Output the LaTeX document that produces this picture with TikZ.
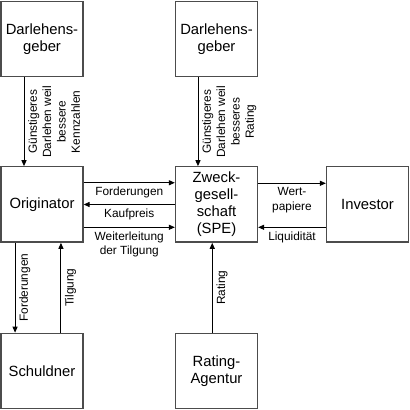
\documentclass[tikz,border=0pt]{standalone}
\usepackage{fontspec}
\setmainfont{Liberation Sans}
\usetikzlibrary{arrows.meta}

\begin{document}
\begin{tikzpicture}[x=0.75pt,y=0.75pt,
    box/.style={draw=black!70,line width=1pt,minimum width=61.5pt,minimum height=56.5pt,
      inner sep=0pt,align=center,font=\fontsize{11.1}{12.8}\selectfont},
    pfeil/.style={-{Triangle[length=4.5pt,width=3.8pt]},line width=0.7pt},
    lbl/.style={align=center,inner sep=2.8pt,font=\fontsize{8.9}{10.8}\selectfont}]
   \useasboundingbox (0,0) rectangle (410,410);
   % Boxen
   \node[box] (gebA) at (42,371) {Darlehens-\\geber};
   \node[box] (gebB) at (216.5,371) {Darlehens-\\geber};
   \node[box] (orig) at (42,205.5) {Originator};
   \node[box] (spe) at (216.5,205.5) {Zweck-\\gesell-\\schaft\\(SPE)};
   \node[box] (inv) at (367.5,205.5) {Investor};
   \node[box] (schuld) at (42,39) {Schuldner};
   \node[box] (agentur) at (216.5,39) {Rating-\\Agentur};
   % Pfeile oben
   \draw[pfeil] ([xshift=-13.5pt]gebA.south) -- ([xshift=-13.5pt]orig.north)
      node[lbl,midway,anchor=north,rotate=90] {Günstigeres\\Darlehen weil\\bessere\\Kennzahlen};
   \draw[pfeil] ([xshift=-13.9pt]gebB.south) -- ([xshift=-13.9pt]spe.north)
      node[lbl,midway,anchor=north,rotate=90] {Günstigeres\\Darlehen weil\\besseres\\Rating};
   % Pfeile Mitte
   \draw[pfeil] ([yshift=16.3pt]orig.east) -- ([yshift=16.3pt]spe.west)
      node[lbl,midway,below] {Forderungen};
   \draw[pfeil] (spe.west) -- (orig.east)
      node[lbl,midway,below] {Kaufpreis};
   \draw[pfeil] ([yshift=-17.1pt]orig.east) -- ([yshift=-17.1pt]spe.west)
      node[lbl,midway,below] {Weiterleitung\\der Tilgung};
   \draw[pfeil] ([yshift=15.9pt]spe.east) -- ([yshift=15.9pt]inv.west)
      node[lbl,midway,below] {Wert-\\papiere};
   \draw[pfeil] ([yshift=-17.1pt]inv.west) -- ([yshift=-17.1pt]spe.east)
      node[lbl,midway,below] {Liquidität};
   % Pfeile unten
   \draw[pfeil] ([xshift=-20.2pt]orig.south) -- ([xshift=-20.2pt]schuld.north)
      node[lbl,midway,anchor=north,rotate=90] {Forderungen};
   \draw[pfeil] ([xshift=14.2pt]schuld.north) -- ([xshift=14.2pt]orig.south)
      node[lbl,midway,anchor=north,rotate=90] {Tilgung};
   \draw[pfeil] ([xshift=-3.2pt]agentur.north) -- ([xshift=-3.2pt]spe.south)
      node[lbl,midway,anchor=north,rotate=90] {Rating};
\end{tikzpicture}
\end{document}
